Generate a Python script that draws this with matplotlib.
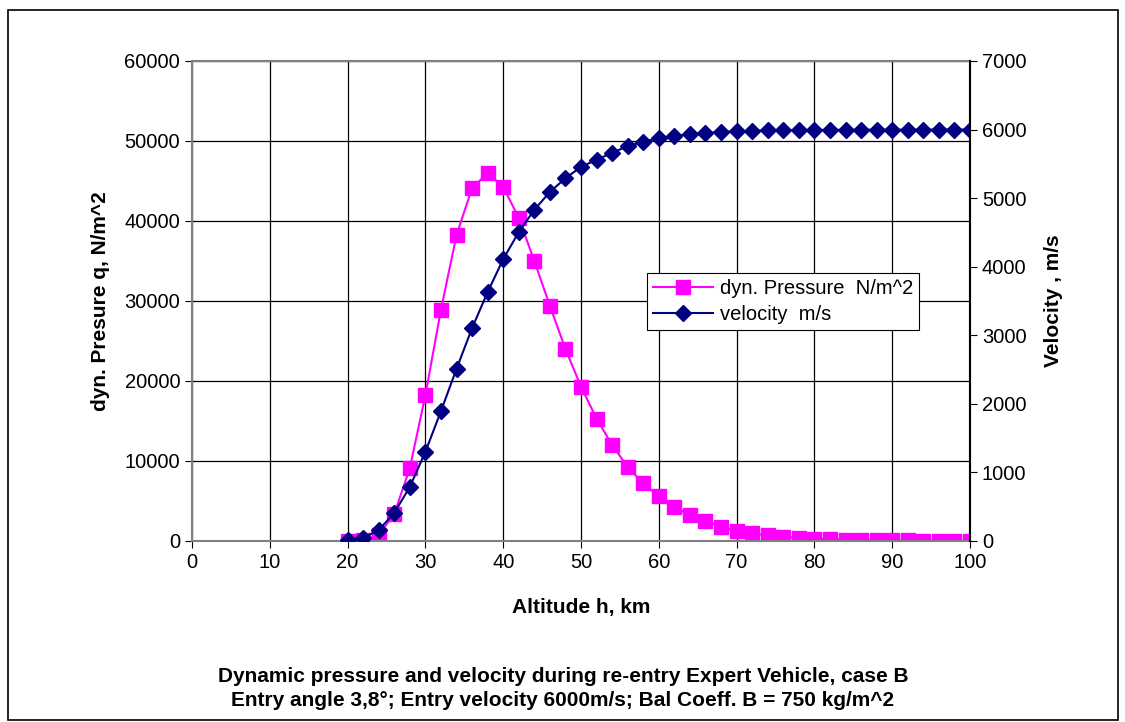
import matplotlib.pyplot as plt
from matplotlib.patches import Rectangle

# altitude in km, every 2 km from 20 to 100
altitude = list(range(20, 101, 2))

# dynamic pressure q, N/m^2
pressure = [50, 100, 750, 3400, 9100, 18250, 28900, 38250, 44100, 46000,
            44250, 40400, 35000, 29400, 24000, 19300, 15300, 12000, 9250, 7200,
            5600, 4250, 3250, 2450, 1800, 1300, 950, 700, 520, 400,
            300, 230, 180, 140, 110, 90, 70, 60, 50, 40, 30]

# velocity, m/s
velocity = [10, 45, 160, 410, 790, 1300, 1895, 2510, 3105, 3630,
            4110, 4505, 4830, 5090, 5290, 5455, 5560, 5660, 5760, 5820,
            5880, 5905, 5935, 5950, 5965, 5975, 5982, 5987, 5990, 5992,
            5994, 5995, 5996, 5997, 5998, 5998, 5999, 5999, 6000, 6000, 6000]

plt.rcParams['font.family'] = ['Liberation Sans', 'DejaVu Sans']

fig = plt.figure(figsize=(11.25, 7.22), dpi=100)
W, H = 1125, 722
ax = fig.add_axes([192 / W, 1 - 541 / H, (970 - 192) / W, (541 - 61) / H])

# outer frame around the whole chart
fig.patches.append(Rectangle((8 / W, 1 - 720 / H), 1110 / W, 710 / H,
                             transform=fig.transFigure, fill=False,
                             edgecolor='black', linewidth=1.2))

l1, = ax.plot(altitude, pressure, '-s', color='#FF00FF', markersize=10.5,
              linewidth=1.5, label='dyn. Pressure  N/m^2')
ax.set_xlim(0, 100)
ax.set_ylim(0, 60000)
ax.set_xticks(range(0, 101, 10))
ax.set_yticks(range(0, 60001, 10000))
ax.grid(True, color='black', linewidth=0.9)
ax.set_axisbelow(True)
for s in ax.spines.values():
    s.set_color('#808080')
    s.set_linewidth(1.5)
ax.tick_params(labelsize=14.5, direction='out', length=5, color='black')
ax.set_xlabel('Altitude h, km', fontsize=15, fontweight='bold')
ax.set_ylabel('dyn. Presure q, N/m^2', fontsize=15, fontweight='bold')
ax.xaxis.set_label_coords(0.5, (541 - 598) / 480)
ax.yaxis.set_label_coords((110 - 192) / 778, 0.5)

ax2 = ax.twinx()
l2, = ax2.plot(altitude, velocity, '-D', color='#000080', markersize=8.5,
               linewidth=1.5, label='velocity  m/s')
ax2.set_ylim(0, 7000)
ax2.set_yticks(range(0, 7001, 1000))
ax2.tick_params(labelsize=14.5, direction='out', length=5)
ax2.set_ylabel('Velocity , m/s', fontsize=15, fontweight='bold')
ax2.yaxis.set_label_coords((1044 - 192) / 778, 0.5)
for s in ax2.spines.values():
    s.set_visible(False)
ax2.spines['right'].set_visible(True)
ax2.spines['right'].set_color('black')
ax2.spines['right'].set_linewidth(1.5)

leg = ax2.legend(handles=[l1, l2], loc='upper left',
                 bbox_to_anchor=((647 - 192) / (970 - 192), (541 - 273) / 480),
                 fontsize=14.5, frameon=True, fancybox=False, edgecolor='black',
                 framealpha=1, borderaxespad=0, handlelength=3.0,
                 handletextpad=0.3, labelspacing=0.35, borderpad=0.3)
leg.get_frame().set_linewidth(0.8)

fig.text(563 / W, 1 - 677 / H,
         'Dynamic pressure and velocity during re-entry Expert Vehicle, case B',
         ha='center', va='center', fontsize=15, fontweight='bold')
fig.text(563 / W, 1 - 700 / H,
         'Entry angle 3,8°; Entry velocity 6000m/s; Bal Coeff. B = 750 kg/m^2',
         ha='center', va='center', fontsize=15, fontweight='bold')

fig.savefig('out.png', dpi=100)
